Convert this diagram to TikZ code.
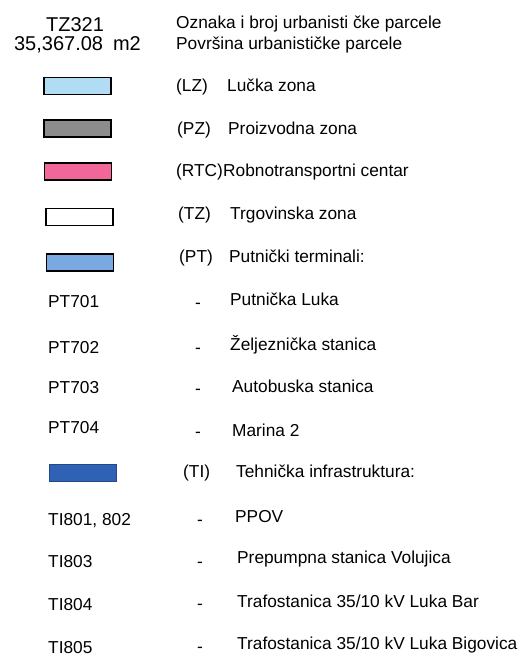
\documentclass[tikz,border=0pt]{standalone}
\usepackage{fontspec}
\setmainfont{Liberation Sans}
\definecolor{lzblue}{HTML}{B0DCF4}
\definecolor{pzgray}{HTML}{8C8C8C}
\definecolor{rtcpink}{HTML}{F2679A}
\definecolor{ptblue}{HTML}{7AA8E0}
\definecolor{tiblue}{HTML}{2F62B4}
\begin{document}
\begin{tikzpicture}[x=1pt, y=-1pt,
  txt/.style={anchor=base west, inner sep=0pt, font=\fontsize{17.3}{20}\selectfont},
  cad/.style={anchor=base, inner sep=0pt, font=\fontsize{20}{23}\selectfont},
  zonebox/.style={draw, line width=1.8pt, minimum width=67pt, minimum height=17pt, inner sep=0pt}]
\useasboundingbox (0,0) rectangle (531,657);
% parcel label
\node[cad] (pid) at (75,31) {TZ321};
\node[cad] (parea) at (77.5,50) {35,367.08\hspace{10pt}m2};
\node[txt] (pidtxt) at (176,28) {Oznaka i broj urbanisti čke parcele};
\node[txt] (pareatxt) at (176,49) {Površina urbanističke parcele};
% zones
\node[zonebox, fill=lzblue] (lzbox) at (77.5,86) {};
\node[txt] (lzcode) at (176,91) {(LZ)};
\node[txt] (lztxt) at (227,91) {Lučka zona};
\node[zonebox, fill=pzgray] (pzbox) at (77.5,128.5) {};
\node[txt] (pzcode) at (177,134) {(PZ)};
\node[txt] (pztxt) at (228,134) {Proizvodna zona};
\node[zonebox, fill=rtcpink] (rtcbox) at (78,171.5) {};
\node[txt] (rtccode) at (176,176) {(RTC)};
\node[txt] (rtctxt) at (223,176) {Robnotransportni centar};
\node[zonebox, fill=white] (tzbox) at (79.5,217) {};
\node[txt] (tzcode) at (178,219) {(TZ)};
\node[txt] (tztxt) at (230,219) {Trgovinska zona};
% passenger terminals
\node[zonebox, fill=ptblue] (ptbox) at (80,262.5) {};
\node[txt] (ptcode) at (179,262) {(PT)};
\node[txt] (pttxt) at (229,262) {Putnički terminali:};
\node[txt] (pt701) at (48,307) {PT701};
\node[txt] (pt701d) at (195,308) {-};
\node[txt] (pt701t) at (230,305) {Putnička Luka};
\node[txt] (pt702) at (48,353) {PT702};
\node[txt] (pt702d) at (195,353) {-};
\node[txt] (pt702t) at (230,350) {Željeznička stanica};
\node[txt] (pt703) at (48,393) {PT703};
\node[txt] (pt703d) at (195,394) {-};
\node[txt] (pt703t) at (232,392) {Autobuska stanica};
\node[txt] (pt704) at (48,433) {PT704};
\node[txt] (pt704d) at (195,437) {-};
\node[txt] (pt704t) at (232,436) {Marina 2};
% technical infrastructure
\node[zonebox, draw=tiblue!75!black, line width=1pt, fill=tiblue] (tibox) at (83,473) {};
\node[txt] (ticode) at (183,477) {(TI)};
\node[txt] (titxt) at (236,477) {Tehnička infrastruktura:};
\node[txt] (ti801) at (48,525) {TI801, 802};
\node[txt] (ti801d) at (197,525) {-};
\node[txt] (ti801t) at (235,522) {PPOV};
\node[txt] (ti803) at (48,567) {TI803};
\node[txt] (ti803d) at (197,567) {-};
\node[txt] (ti803t) at (237,563) {Prepumpna stanica Volujica};
\node[txt] (ti804) at (48,610) {TI804};
\node[txt] (ti804d) at (197,609) {-};
\node[txt] (ti804t) at (237,607) {Trafostanica 35/10 kV Luka Bar};
\node[txt] (ti805) at (48,653) {TI805};
\node[txt] (ti805d) at (197,652) {-};
\node[txt] (ti805t) at (237,649) {Trafostanica 35/10 kV Luka Bigovica};
\end{tikzpicture}
\end{document}
